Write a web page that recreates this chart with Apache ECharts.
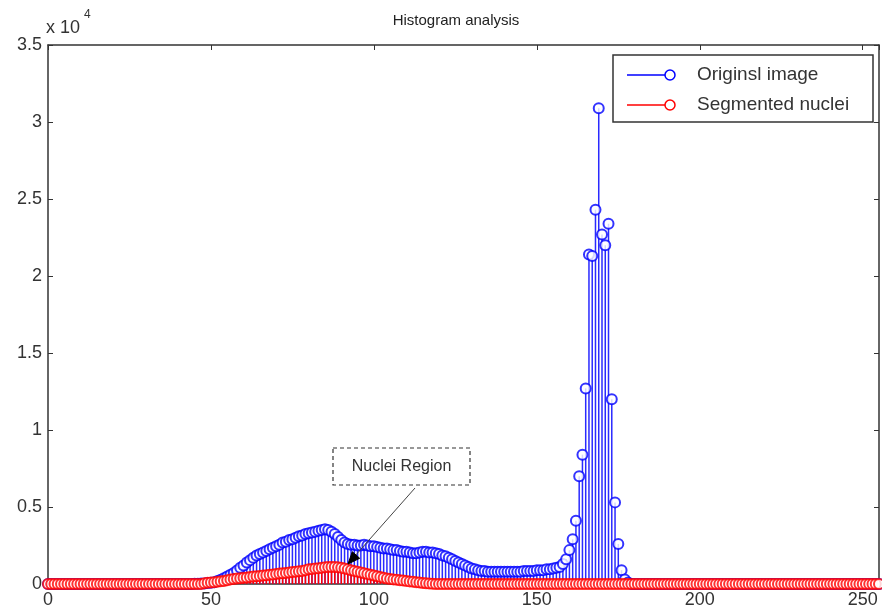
<!DOCTYPE html>
<html><head><meta charset="utf-8">
<script src="https://cdn.jsdelivr.net/npm/echarts@6/dist/echarts.min.js"></script>
<style>html,body{margin:0;padding:0;background:#fff}#c{width:882px;height:615px}</style>
</head><body><div id="c"></div>
<script>
// Gray levels (histogram bins)
const grayLevels = Array.from({length: 256}, (_, i) => i);
const xTickValues = [0, 50, 100, 150, 200, 250];
const yTickLabels = ['0', '0.5', '1', '1.5', '2', '2.5', '3', '3.5'];
const seriesNames = ['Originsl image', 'Segmented nuclei'];

// Original image histogram (pixel counts), bins 0..255
const original = [
  0,0,0,0,0,0,0,0,0,0,0,0,0,0,0,0,
  0,0,0,0,0,0,0,0,0,0,0,0,0,0,0,0,
  0,0,0,0,0,0,0,0,0,0,0,0,0,10,20,30,
  40,60,80,110,200,280,380,480,600,720,880,1050,1200,1400,1550,1700,
  1850,1950,2050,2150,2250,2350,2450,2550,2700,2750,2850,2900,3000,3100,3150,3250,
  3300,3350,3400,3450,3500,3550,3500,3400,3250,3050,2850,2700,2600,2550,2550,2500,
  2500,2550,2500,2450,2450,2400,2350,2300,2300,2250,2200,2200,2150,2100,2100,2050,
  2000,2000,2050,2100,2100,2050,2050,2000,1950,1850,1800,1700,1600,1500,1400,1300,
  1200,1100,1000,950,900,850,850,800,800,800,800,800,800,800,800,800,
  800,800,850,850,850,850,900,900,900,950,950,1000,1050,1100,1300,1600,
  2200,2900,4100,7000,8400,12700,21400,21300,24300,30900,22700,22000,23400,12000,5300,2600,
  900,300,100,0,0,0,0,0,0,0,0,0,0,0,0,0,
  0,0,0,0,0,0,0,0,0,0,0,0,0,0,0,0,
  0,0,0,0,0,0,0,0,0,0,0,0,0,0,0,0,
  0,0,0,0,0,0,0,0,0,0,0,0,0,0,0,0,
  0,0,0,0,0,0,0,0,0,0,0,0,0,0,0,0
];

// Segmented nuclei histogram (pixel counts), bins 0..255
const segmented = [
  0,0,0,0,0,0,0,0,0,0,0,0,0,0,0,0,
  0,0,0,0,0,0,0,0,0,0,0,0,0,0,0,0,
  0,0,0,0,0,0,0,0,0,0,0,0,0,0,0,0,
  50,80,100,120,150,180,200,250,300,320,350,380,400,420,450,480,
  500,520,550,570,600,620,650,680,700,720,750,780,800,820,850,900,
  950,980,1000,1030,1050,1080,1100,1100,1100,1080,1050,1000,950,900,850,800,
  750,700,650,600,550,500,450,400,350,320,300,270,250,220,200,170,
  150,120,100,70,50,30,20,0,0,0,0,0,0,0,0,0,
  0,0,0,0,0,0,0,0,0,0,0,0,0,0,0,0,
  0,0,0,0,0,0,0,0,0,0,0,0,0,0,0,0,
  0,0,0,0,0,0,0,0,0,0,0,0,0,0,0,0,
  0,0,0,0,0,0,0,0,0,0,0,0,0,0,0,0,
  0,0,0,0,0,0,0,0,0,0,0,0,0,0,0,0,
  0,0,0,0,0,0,0,0,0,0,0,0,0,0,0,0,
  0,0,0,0,0,0,0,0,0,0,0,0,0,0,0,0,
  0,0,0,0,0,0,0,0,0,0,0,0,0,0,0,0
];

const BLUE = '#0000ff', RED = '#ff0000', AX = '#333333';
const FONT = '"Liberation Sans", Arial, sans-serif';

const bluePts = grayLevels.map((g, i) => [g, original[i]]);
const redPts = grayLevels.map((g, i) => [g, segmented[i]]);

const chart = echarts.init(document.getElementById('c'), null, {renderer: 'canvas'});

const xCommon = {
  type: 'value', min: 0, max: 255, interval: 50,
  axisLine: {show: true, onZero: false, lineStyle: {color: AX, width: 1.5}},
  axisTick: {show: true, inside: true, length: 5, lineStyle: {color: AX}},
  splitLine: {show: false}
};
const yCommon = {
  type: 'value', min: 0, max: 35000, interval: 5000,
  axisLine: {show: true, onZero: false, lineStyle: {color: AX, width: 1.5}},
  axisTick: {show: true, inside: true, length: 5, lineStyle: {color: AX}},
  splitLine: {show: false}
};

const option = {
  animation: false,
  backgroundColor: '#ffffff',
  grid: {left: 48, right: 1, top: 45, bottom: 31, containLabel: false},
  xAxis: [
    Object.assign({}, xCommon, {
      position: 'bottom',
      axisLabel: {show: true, margin: 7, color: AX, fontSize: 18, fontFamily: FONT,
        formatter: v => (xTickValues.indexOf(v) >= 0 ? String(v) : '')}
    }),
    Object.assign({}, xCommon, {position: 'top', axisLabel: {show: false}})
  ],
  yAxis: [
    Object.assign({}, yCommon, {
      position: 'left',
      axisLabel: {show: true, margin: 6, color: AX, fontSize: 18, fontFamily: FONT,
        formatter: v => yTickLabels[Math.round(v / 5000)]}
    }),
    Object.assign({}, yCommon, {position: 'right', axisLabel: {show: false}})
  ],
  series: [
    {name: seriesNames[0] + ' stems', type: 'bar', data: bluePts, barWidth: 1.5, barGap: '-100%',
      itemStyle: {color: '#2a2aff'}, silent: true, z: 2},
    {name: seriesNames[0], type: 'scatter', data: bluePts, symbol: 'emptyCircle', symbolSize: 10,
      itemStyle: {color: BLUE, borderColor: BLUE, borderWidth: 1.5}, silent: true, z: 3},
    {name: seriesNames[1] + ' stems', type: 'bar', data: redPts, barWidth: 1.5, barGap: '-100%',
      itemStyle: {color: RED}, silent: true, z: 4},
    {name: seriesNames[1], type: 'scatter', data: redPts, symbol: 'emptyCircle', symbolSize: 10,
      itemStyle: {color: RED, borderColor: RED, borderWidth: 1.6}, silent: true, z: 5}
  ],
  graphic: [
    // title
    {type: 'text', x: 456, y: 21, z: 100,
      style: {text: 'Histogram analysis', fill: '#222', font: '15px ' + FONT, textAlign: 'center', textVerticalAlign: 'middle'}},
    // exponent label
    {type: 'text', x: 46, y: 28, z: 100,
      style: {text: 'x 10', fill: AX, font: '18px ' + FONT, textAlign: 'left', textVerticalAlign: 'middle'}},
    {type: 'text', x: 84, y: 15, z: 100,
      style: {text: '4', fill: AX, font: '12px ' + FONT, textAlign: 'left', textVerticalAlign: 'middle'}},
    // legend box
    {type: 'rect', z: 100, shape: {x: 613, y: 55, width: 260, height: 67},
      style: {fill: '#fff', stroke: AX, lineWidth: 1.5}},
    {type: 'line', z: 101, shape: {x1: 627, y1: 75, x2: 670, y2: 75}, style: {stroke: BLUE, lineWidth: 1.3}},
    {type: 'circle', z: 101, shape: {cx: 670, cy: 75, r: 5}, style: {fill: '#fff', stroke: BLUE, lineWidth: 1.5}},
    {type: 'text', z: 101, x: 697, y: 75,
      style: {text: seriesNames[0], fill: AX, font: '19px ' + FONT, textVerticalAlign: 'middle'}},
    {type: 'line', z: 101, shape: {x1: 627, y1: 105, x2: 670, y2: 105}, style: {stroke: RED, lineWidth: 1.3}},
    {type: 'circle', z: 101, shape: {cx: 670, cy: 105, r: 5}, style: {fill: '#fff', stroke: RED, lineWidth: 1.5}},
    {type: 'text', z: 101, x: 697, y: 105,
      style: {text: seriesNames[1], fill: AX, font: '19px ' + FONT, textVerticalAlign: 'middle'}},
    // annotation
    {type: 'rect', z: 100, shape: {x: 333, y: 448, width: 137, height: 37},
      style: {fill: '#fff', stroke: AX, lineWidth: 1.2, lineDash: [4, 3]}},
    {type: 'text', z: 101, x: 401.5, y: 467,
      style: {text: 'Nuclei Region', fill: AX, font: '16px ' + FONT, textAlign: 'center', textVerticalAlign: 'middle'}},
    {type: 'line', z: 100, shape: {x1: 415, y1: 488, x2: 354, y2: 557}, style: {stroke: '#444', lineWidth: 1}},
    {type: 'polygon', z: 100, shape: {points: [[348, 564], [359.7, 558.3], [352.3, 551.7]]},
      style: {fill: '#000', stroke: '#000', lineWidth: 1}}
  ]
};
chart.setOption(option);
</script>
</body></html>
